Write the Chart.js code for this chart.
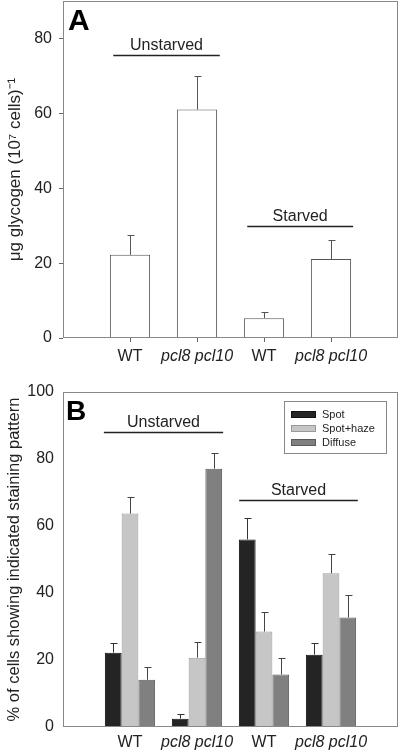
<!DOCTYPE html>
<html><head><meta charset="utf-8">
<script src="https://cdn.jsdelivr.net/npm/chart.js@4"></script>
<style>
html,body{margin:0;padding:0;background:#fff;width:400px;height:752px;overflow:hidden}
.c{position:absolute;left:0;width:400px;height:376px}
</style></head><body>
<div class="c" style="top:0"><canvas id="a" width="400" height="376"></canvas></div>
<div class="c" style="top:376px"><canvas id="b" width="400" height="376"></canvas></div>
<script>
// ---- data ----
const categories = ['', 'WT', 'pcl8 pcl10', 'WT', 'pcl8 pcl10', ''];
const glycogen = [null, 22.2, 61.0, 5.3, 21.1, null];
const glycogenErr = [null, 27.4, 70.0, 7.0, 26.1, null];
const spot = [null, 22.2, 2.5, 56.0, 21.6, null];
const spotErr = [null, 25.2, 4.0, 62.4, 25.2, null];
const spotHaze = [null, 63.7, 20.7, 28.5, 45.9, null];
const spotHazeErr = [null, 68.8, 25.4, 34.4, 51.7, null];
const diffuse = [null, 14.1, 77.1, 15.7, 32.7, null];
const diffuseErr = [null, 18.0, 81.9, 20.6, 39.5, null];
const yTicksA = [0, 20, 40, 60, 80];
const yTicksB = [0, 20, 40, 60, 80, 100];
const seriesNames = ['Spot', 'Spot+haze', 'Diffuse'];

const FONT = "'Liberation Sans', Arial, sans-serif";
Chart.defaults.font.family = FONT;
Chart.defaults.color = '#222';

const errPlugin = {
  id: 'err',
  afterDatasetsDraw(chart) {
    const ctx = chart.ctx, y = chart.scales.y;
    chart.data.datasets.forEach((ds, di) => {
      if (!ds.errTop) return;
      const meta = chart.getDatasetMeta(di);
      meta.data.forEach((el, i) => {
        const top = ds.errTop[i], v = ds.data[i];
        if (top == null || v == null) return;
        const x = Math.round(el.x) + 0.5;
        const y0 = y.getPixelForValue(v), y1 = Math.round(y.getPixelForValue(top)) + 0.5;
        ctx.save();
        ctx.strokeStyle = ds.errColor; ctx.lineWidth = 1;
        ctx.beginPath();
        ctx.moveTo(x, y0); ctx.lineTo(x, y1);
        ctx.moveTo(x - ds.capHalf, y1); ctx.lineTo(x + ds.capHalf + 1, y1);
        ctx.stroke();
        ctx.restore();
      });
    });
  }
};

const decorPlugin = {
  id: 'decor',
  afterDraw(chart, args, opts) {
    const ctx = chart.ctx, a = chart.chartArea, xs = chart.scales.x, ys = chart.scales.y;
    ctx.save();
    ctx.strokeStyle = '#888'; ctx.lineWidth = 1;
    ctx.strokeRect(Math.round(a.left) + 0.5, Math.round(a.top) + 0.5, Math.round(a.right - a.left) - 1, Math.round(a.bottom - a.top) - 1);
    ctx.fillStyle = '#000';
    ctx.font = 'bold ' + opts.letterSize + 'px ' + FONT;
    ctx.textBaseline = 'alphabetic'; ctx.textAlign = 'left';
    ctx.fillText(opts.letter, a.left + opts.letterDx, a.top + opts.letterDy);
    (opts.brackets || []).forEach(b => {
      const x0 = xs.getPixelForValue(b.from), x1 = xs.getPixelForValue(b.to);
      const yy = Math.round(ys.getPixelForValue(b.y)) + 0.5;
      ctx.strokeStyle = '#222'; ctx.lineWidth = 1.6;
      ctx.beginPath(); ctx.moveTo(x0, yy); ctx.lineTo(x1, yy); ctx.stroke();
      ctx.fillStyle = '#222';
      ctx.font = '16px ' + FONT;
      ctx.textAlign = 'center'; ctx.textBaseline = 'middle';
      ctx.fillText(b.text, (x0 + x1) / 2, yy - 10);
    });
    if (opts.legend) {
      const L = opts.legend;
      const bx = Math.round(a.right - L.dxRight), by = Math.round(a.top + L.dy);
      ctx.strokeStyle = '#888'; ctx.lineWidth = 1;
      ctx.strokeRect(bx + 0.5, by + 0.5, L.w, L.h);
      chart.data.datasets.forEach((ds, i) => {
        const ry = by + 13 + i * 14;
        ctx.fillStyle = ds.backgroundColor;
        ctx.fillRect(bx + 7, ry - 3, 25, 7);
        ctx.strokeStyle = ds.borderColor;
        ctx.strokeRect(bx + 7.5, ry - 2.5, 24, 6);
        ctx.fillStyle = '#222';
        ctx.font = '11px ' + FONT;
        ctx.textAlign = 'left'; ctx.textBaseline = 'middle';
        ctx.fillText(ds.label, bx + 38, ry + 0.5);
      });
    }
    ctx.restore();
  }
};

function xScale(tickLen, padding, tickColor, height) {
  return {
    type: 'category', labels: categories, offset: false,
    grid: {
      display: true, offset: false, drawOnChartArea: false, drawTicks: tickLen > 0, tickLength: tickLen,
      color: c => (c.index === 0 || c.index === categories.length - 1) ? 'rgba(0,0,0,0)' : tickColor
    },
    border: { display: false },
    ticks: {
      autoSkip: false, maxRotation: 0, padding: padding, color: '#222',
      font: c => ({ size: 16, style: (c.index === 2 || c.index === 4) ? 'italic' : 'normal', family: FONT })
    },
    afterFit: s => { s.height = height; s.paddingLeft = 0; s.paddingRight = 0; }
  };
}

function yScale(max, ticksArr, showTicks, padding, title, titleSize) {
  return {
    min: 0, max: max,
    afterBuildTicks: s => { s.ticks = ticksArr.map(v => ({ value: v })); },
    afterFit: s => { s.width = 63; s.paddingTop = 0; s.paddingBottom = 0; },
    grid: { display: showTicks, drawOnChartArea: false, drawTicks: showTicks, tickLength: 4, color: '#666' },
    border: { display: false },
    ticks: { padding: padding, font: { size: 16 }, color: '#222' },
    title: { display: true, text: title, font: { size: titleSize }, color: '#222', padding: { top: 5, bottom: 0 } }
  };
}

// ---- Chart A ----
new Chart(document.getElementById('a'), {
  type: 'bar',
  data: { labels: categories, datasets: [{
    label: 'glycogen', data: glycogen, backgroundColor: '#fff', borderColor: '#555', borderWidth: 1,
    barPercentage: 0.6, categoryPercentage: 1, errTop: glycogenErr, errColor: '#555', capHalf: 3
  }]},
  options: {
    responsive: false, animation: false, devicePixelRatio: 1,
    layout: { padding: { top: 1, right: 2, left: 0, bottom: 0 } },
    plugins: {
      legend: { display: false }, tooltip: { enabled: false },
      decor: { letter: 'A', letterSize: 30, letterDx: 5, letterDy: 29,
        brackets: [ { from: 0.75, to: 2.34, y: 75.5, text: 'Unstarved' },
                    { from: 2.75, to: 4.33, y: 30, text: 'Starved' } ] }
    },
    scales: {
      x: xScale(4, 5, '#666', 38),
      y: yScale(90, yTicksA, true, 7, 'μg glycogen (10⁷ cells)⁻¹', 17)
    }
  },
  plugins: [errPlugin, decorPlugin]
});

// ---- Chart B ----
new Chart(document.getElementById('b'), {
  type: 'bar',
  data: { labels: categories, datasets: [
    { label: seriesNames[0], data: spot, backgroundColor: '#242424', borderColor: '#111', borderWidth: 1,
      barPercentage: 1, categoryPercentage: 0.75, errTop: spotErr, errColor: '#333', capHalf: 3 },
    { label: seriesNames[1], data: spotHaze, backgroundColor: '#c6c6c6', borderColor: '#999', borderWidth: 1,
      barPercentage: 1, categoryPercentage: 0.75, errTop: spotHazeErr, errColor: '#444', capHalf: 3 },
    { label: seriesNames[2], data: diffuse, backgroundColor: '#808080', borderColor: '#5a5a5a', borderWidth: 1,
      barPercentage: 1, categoryPercentage: 0.75, errTop: diffuseErr, errColor: '#444', capHalf: 3 }
  ]},
  options: {
    responsive: false, animation: false, devicePixelRatio: 1,
    layout: { padding: { top: 16, right: 2, left: 0, bottom: 0 } },
    plugins: {
      legend: { display: false }, tooltip: { enabled: false },
      decor: { letter: 'B', letterSize: 28, letterDx: 3, letterDy: 28,
        brackets: [ { from: 0.61, to: 2.39, y: 88.2, text: 'Unstarved' },
                    { from: 2.63, to: 4.40, y: 67.7, text: 'Starved' } ],
        legend: { dxRight: 114, dy: 9, w: 102, h: 52 } }
    },
    scales: {
      x: xScale(0, 6, '#666', 25),
      y: yScale(100, yTicksB, false, 9, '% of cells showing indicated staining pattern', 16.5)
    }
  },
  plugins: [errPlugin, decorPlugin]
});
</script>
</body></html>
